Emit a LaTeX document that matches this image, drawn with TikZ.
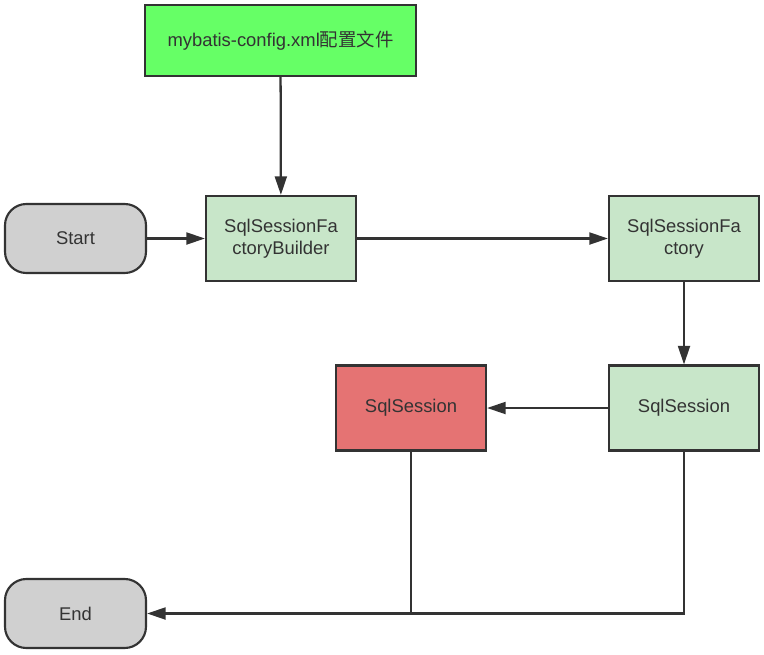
\documentclass[tikz,border=0pt]{standalone}
\usepackage{fontspec}
\setmainfont{Liberation Sans}
\newfontfamily\cjk{Noto Sans CJK SC}
\usetikzlibrary{arrows.meta}
\definecolor{linegray}{HTML}{333333}
\definecolor{cfggreen}{HTML}{66FF66}
\definecolor{boxgreen}{HTML}{C8E6C9}
\definecolor{boxred}{HTML}{E57373}
\definecolor{termgray}{HTML}{D0D0D0}
\tikzset{
  box/.style={draw=linegray,line width=1.6pt,text=linegray,align=center,inner sep=0pt,
    minimum width=112.5pt,minimum height=63.75pt,font=\fontsize{13.8}{16.5}\selectfont},
  term/.style={box,fill=termgray,rounded corners=16pt,minimum width=105.75pt,minimum height=51.75pt},
  flow/.style={draw=linegray,line width=1.7pt,-{Triangle[length=14pt,width=9pt]}}
}
\begin{document}
\begin{tikzpicture}[x=0.75pt,y=-0.75pt]
		% MyBatis session flow
		\useasboundingbox (0,0) rectangle (764,654);
		\node[box,fill=cfggreen,minimum width=203pt,minimum height=53pt] (Config) at (280.5,40.5) {mybatis-config.xml{\cjk 配置文件}};
		\node[term] (Start) at (75.5,238.5) {Start};
		\node[box,fill=boxgreen] (Builder) at (281,238.5) {SqlSessionFa\\ctoryBuilder};
		\node[box,fill=boxgreen] (Factory) at (684,238.5) {SqlSessionFa\\ctory};
		\node[box,fill=boxgreen] (Session) at (684,408) {SqlSession};
		\node[box,fill=boxred] (Used) at (411,408) {SqlSession};
		\node[term] (End) at (75.5,613.5) {End};
		
		\draw[flow] (Config) to (Builder);
		\draw[flow] (Start) to (Builder);
		\draw[flow] (Builder) to (Factory);
		\draw[flow] (Factory) to (Session);
		\draw[flow] (Session) to (Used);
		\draw[flow] (Session.south) |- (End.east);
		\draw[draw=linegray,line width=1.7pt] (Used.south) -- (Used.south |- End.east);
		
		\end{tikzpicture}
\end{document}
